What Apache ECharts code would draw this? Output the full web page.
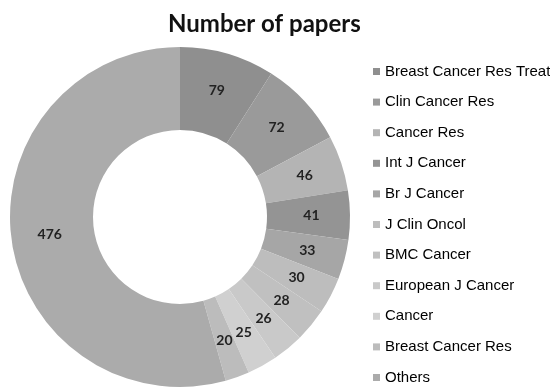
<!DOCTYPE html>
<html lang="en">
<head>
    <meta charset="UTF-8">
    <title>Number of papers</title>
    <script src="https://cdn.jsdelivr.net/npm/echarts@6/dist/echarts.min.js"></script>
</head>
<body style="margin:0">
    <div id="main" style="width: 550px; height: 389px;"></div>
    <script>
        const journals = ['Breast Cancer Res Treat', 'Clin Cancer Res', 'Cancer Res', 'Int J Cancer',
            'Br J Cancer', 'J Clin Oncol', 'BMC Cancer', 'European J Cancer', 'Cancer',
            'Breast Cancer Res', 'Others'];
        const papers = [79, 72, 46, 41, 33, 30, 28, 26, 25, 20, 476];
        const shades = ['#8f8f8f', '#9a9a9a', '#b4b4b4', '#949494', '#a6a6a6', '#bdbdbd',
            '#c0c0c0', '#c9c9c9', '#d0d0d0', '#bcbcbc', '#ababab'];

        const chart = echarts.init(document.getElementById('main'));
        chart.setOption({
            animation: false,
            title: {
                text: 'Number of papers',
                left: 163,
                top: 7,
                textStyle: { fontFamily: 'Lato', fontWeight: 'bold', fontSize: 24, color: '#111' }
            },
            legend: {
                orient: 'vertical',
                left: 368,
                top: 59,
                height: 330,
                itemWidth: 7,
                itemHeight: 7,
                itemGap: 15.6,
                icon: 'rect',
                textStyle: { fontFamily: 'Liberation Sans', fontSize: 15, color: '#000' },
                data: journals
            },
            series: [{
                type: 'pie',
                center: [180, 217],
                radius: [87, 170],
                startAngle: 90,
                clockwise: true,
                avoidLabelOverlap: false,
                itemStyle: { borderWidth: 0 },
                label: {
                    show: true,
                    position: 'inside',
                    formatter: '{c}',
                    fontFamily: 'Lato',
                    fontWeight: 'bold',
                    fontSize: 14,
                    color: '#222'
                },
                labelLine: { show: false },
                data: journals.map((name, i) => ({
                    name: name,
                    value: papers[i],
                    itemStyle: { color: shades[i] }
                }))
            }]
        });
    </script>
</body>
</html>
